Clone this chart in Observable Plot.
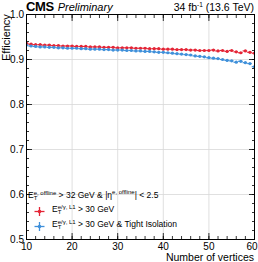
<!DOCTYPE html>
<html>
<head>
<meta charset="utf-8">
<script src="https://cdn.jsdelivr.net/npm/d3@7"></script>
<script src="https://cdn.jsdelivr.net/npm/@observablehq/plot@0.6"></script>
<style>
  html, body { margin: 0; padding: 0; background: #fff; }
  #wrap { position: relative; width: 258px; height: 262px; font-family: "Liberation Sans", Arial, sans-serif; color: #000; overflow: hidden; }
  .ov { position: absolute; white-space: nowrap; line-height: 1; }
  .ss { display: inline-block; vertical-align: middle; line-height: 0.85; font-size: 6px; text-align: left; }
  .leg { font-size: 8.5px; }
  .mk { position: absolute; width: 11px; height: 11px; }
</style>
</head>
<body>
<div id="wrap"></div>
<script>
const vertices = d3.range(10, 61);
const effL1 = [0.936,0.934,0.933,0.933,0.932,0.932,0.931,0.931,0.930,0.930,
               0.930,0.929,0.929,0.929,0.928,0.928,0.928,0.927,0.927,0.927,
               0.926,0.926,0.926,0.926,0.925,0.925,0.925,0.924,0.924,0.924,
               0.923,0.923,0.923,0.922,0.922,0.922,0.921,0.921,0.920,0.920,
               0.920,0.921,0.919,0.920,0.918,0.920,0.917,0.915,0.919,0.916,0.914];
const effL1Iso = [0.932,0.930,0.929,0.928,0.928,0.927,0.927,0.926,0.926,0.925,
                  0.925,0.925,0.924,0.924,0.923,0.923,0.923,0.922,0.922,0.921,
                  0.921,0.921,0.920,0.920,0.919,0.919,0.918,0.918,0.917,0.916,
                  0.916,0.915,0.914,0.913,0.912,0.911,0.910,0.908,0.907,0.906,
                  0.904,0.903,0.902,0.900,0.898,0.897,0.894,0.896,0.893,0.891,0.884];
const seriesNames = ["L1", "L1 Iso"];
const seriesColors = ["#e42536", "#3f90da"];
const xMajor = [10, 20, 30, 40, 50, 60];
const xMinor = d3.range(10, 61, 2);
const yMajor = [0.5, 0.6, 0.7, 0.8, 0.9, 1.0];
const yMinor = d3.range(50, 101, 2).map(v => v / 100);

const data = [
  ...vertices.map((v, i) => ({nv: v, eff: effL1[i], s: seriesNames[0]})),
  ...vertices.map((v, i) => ({nv: v, eff: effL1Iso[i], s: seriesNames[1]}))
];

const blank = () => "";
const chart = Plot.plot({
  width: 258, height: 262,
  marginLeft: 26, marginRight: 4, marginTop: 14, marginBottom: 23,
  style: {fontFamily: "Liberation Sans, Arial, sans-serif", fontSize: "10px", background: "#fff", overflow: "visible"},
  x: {domain: [10, 60]},
  y: {domain: [0.5, 1.0]},
  color: {domain: seriesNames, range: seriesColors},
  marks: [
    Plot.gridX(xMajor.slice(1, -1), {stroke: "#d8d8d8", strokeOpacity: 1, strokeWidth: 0.8}),
    Plot.gridY(yMajor.slice(1, -1), {stroke: "#d8d8d8", strokeOpacity: 1, strokeWidth: 0.8}),
    Plot.axisX({ticks: xMajor.slice(0, -1), tickSize: -6, tickPadding: 9.5, tickFormat: d => d, fontSize: 10, label: null, strokeWidth: 0.8}),
    Plot.axisX({ticks: xMajor.slice(-1), tickSize: 0, tickPadding: 3.5, dx: -2.5, tickFormat: d => d, fontSize: 10, label: null}),
    Plot.axisX({ticks: xMajor.slice(-1), tickSize: -6, tickFormat: blank, label: null, strokeWidth: 0.8}),
    Plot.axisX({ticks: xMinor, tickSize: -3, tickFormat: blank, label: null, strokeWidth: 0.8}),
    Plot.axisX({anchor: "top", ticks: xMajor, tickSize: -6, tickFormat: blank, label: null, strokeWidth: 0.8}),
    Plot.axisX({anchor: "top", ticks: xMinor, tickSize: -3, tickFormat: blank, label: null, strokeWidth: 0.8}),
    Plot.axisY({ticks: yMajor, tickSize: -6, tickPadding: 8.5, tickFormat: d3.format(".1f"), fontSize: 10, label: null, strokeWidth: 0.8}),
    Plot.axisY({ticks: yMinor, tickSize: -3, tickFormat: blank, label: null, strokeWidth: 0.8}),
    Plot.axisY({anchor: "right", ticks: yMajor, tickSize: -6, tickFormat: blank, label: null, strokeWidth: 0.8}),
    Plot.axisY({anchor: "right", ticks: yMinor, tickSize: -3, tickFormat: blank, label: null, strokeWidth: 0.8}),
    Plot.ruleY(data, {y: "eff", x1: d => d.nv - 0.5, x2: d => d.nv + 0.5, stroke: "s", strokeWidth: 1.2, clip: true}),
    Plot.dot(data, {x: "nv", y: "eff", fill: "s", r: 1.6, clip: true}),
    Plot.frame({stroke: "#000", strokeWidth: 1})
  ]
});
const wrap = document.getElementById("wrap");
wrap.appendChild(chart);

function et(sup) {
  return `E<span class="ss"><span>${sup}</span><br><span>T</span></span>`;
}
const crossSvg = (c, left, top) => `<svg class="mk" style="left:${left}px; top:${top}px;" viewBox="0 0 11 11"><line x1="0.5" y1="5.5" x2="10.5" y2="5.5" stroke="${c}" stroke-width="1.3"/><line x1="5.5" y1="1" x2="5.5" y2="10" stroke="${c}" stroke-width="1.3"/><circle cx="5.5" cy="5.5" r="1.8" fill="${c}"/></svg>`;

wrap.insertAdjacentHTML("beforeend", `
  <div class="ov" style="left:26px; top:0px; font-size:13px;"><b style="letter-spacing:-0.3px">CMS</b> <i style="font-size:11px">Preliminary</i></div>
  <div class="ov" style="right:4px; top:2px; font-size:10.5px;">34 fb<sup style="font-size:6.5px; vertical-align:4px">-1</sup> (13.6 TeV)</div>
  <div class="ov" style="left:1px; top:14px; font-size:11px; writing-mode: vertical-rl; transform: rotate(180deg); transform-origin: center; height:48px; text-align:right;">Efficiency</div>
  <div class="ov" style="right:4px; top:252px; font-size:10.5px;">Number of vertices</div>
  <div class="ov leg" style="left:28px; top:189px;">${et("e, offline")} &gt; 32 GeV &amp; |η<sup style="font-size:6px; vertical-align:4px">e, offline</sup>| &lt; 2.5</div>
  ${crossSvg(seriesColors[0], 34, 206)}
  <div class="ov leg" style="left:52px; top:205px;">${et("e/γ, L1")} &gt; 30 GeV</div>
  ${crossSvg(seriesColors[1], 34, 221)}
  <div class="ov leg" style="left:52px; top:220px;">${et("e/γ, L1")} &gt; 30 GeV &amp; Tight Isolation</div>
`);
</script>
</body>
</html>
